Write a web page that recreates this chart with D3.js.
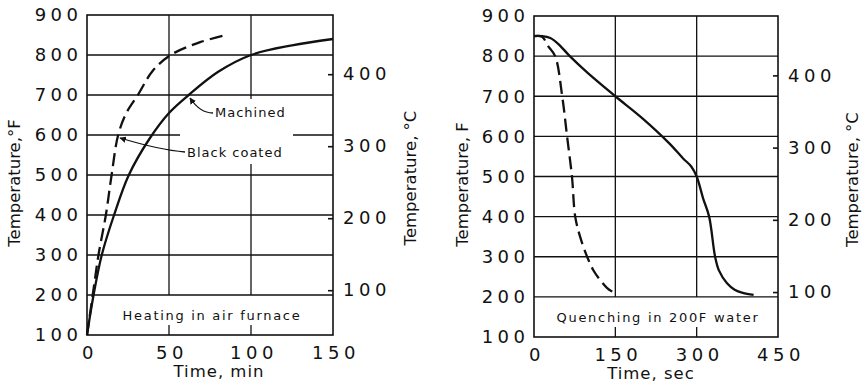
<!DOCTYPE html>
<meta charset="utf-8">
<style>
body { margin: 0; background: #fff; }
svg text { font-family: "DejaVu Sans", sans-serif; fill: #111; }
.tick text { font-size: 18px; letter-spacing: 4.5px; }
.grid line { stroke: #111; stroke-width: 1.3px; }
.frame { fill: none; stroke: #111; stroke-width: 1.6px; }
.curve { fill: none; stroke: #111; stroke-width: 2.3px; }
.dashed { stroke-dasharray: 13 6; }
.title { font-size: 16.5px; }
.note { font-size: 13px; letter-spacing: 1px; }
.band { font-size: 13px; letter-spacing: 1.7px; }
</style>
<body>
<script src="https://cdn.jsdelivr.net/npm/d3@7"></script>
<script>
// temperature scale (F) shared by both panels
var tempTicksF = [100, 200, 300, 400, 500, 600, 700, 800, 900];
var tempTicksC = [100, 200, 300, 400];

// heating in air furnace, time in min
var heatTicks = [0, 50, 100, 150];
var machinedTime = [0, 4, 9, 16.5, 25.5, 38, 50, 62, 80, 100, 125, 150];
var machinedTemp = [100, 200, 300, 400, 500, 590, 655, 700, 758, 800, 824, 840];
var coatedTime = [0, 3.5, 7, 11.5, 15, 19, 24, 31, 40, 51, 69, 85];
var coatedTemp = [100, 200, 300, 400, 500, 600, 655, 700, 760, 800, 832, 850];

// quenching in 200F water, time in sec
var quenchTicks = [0, 150, 300, 450];
var slowTime = [0, 15, 30, 45, 66, 100, 150, 200, 250, 275, 290, 300, 312, 323, 334, 341, 356, 370, 385, 405];
var slowTemp = [850, 850, 845, 830, 800, 757, 700, 645, 582, 545, 525, 500, 445, 400, 300, 266, 234, 218, 210, 205];
var fastTime = [0, 15, 26, 39, 52, 61, 70, 76, 85, 98, 110, 122, 135, 148];
var fastTemp = [850, 848, 825, 800, 700, 600, 500, 400, 350, 300, 265, 242, 222, 210];

var width = 866, height = 384;
var svg = d3.select("body").append("svg")
    .attr("width", width)
    .attr("height", height);

function toC(f) { return (f - 32) * 5 / 9; }

var panels = [
  { left: 87, right: 333, top: 15, bottom: 335, xmax: 150, xticks: heatTicks,
    xtitle: "Time, min", ytitle: "Temperature,\u00b0F", note: "Heating in air furnace",
    series: [
      { t: machinedTime, f: machinedTemp, dashed: false },
      { t: coatedTime, f: coatedTemp, dashed: true }
    ],
    broken: true, yTitleX: 20, cTitleX: 416, xTitleX: 219, xTitleY: 377 },
  { left: 534, right: 778, top: 16, bottom: 337, xmax: 450, xticks: quenchTicks,
    xtitle: "Time, sec", ytitle: "Temperature, F", note: "Quenching in 200F water",
    series: [
      { t: slowTime, f: slowTemp, dashed: false },
      { t: fastTime, f: fastTemp, dashed: true }
    ],
    broken: false, yTitleX: 468, cTitleX: 858, xTitleX: 651, xTitleY: 379 }
];

panels.forEach(function(p) {
  var x = d3.scaleLinear().domain([0, p.xmax]).range([p.left, p.right]);
  var y = d3.scaleLinear().domain([100, 900]).range([p.bottom, p.top]);
  var yc = d3.scaleLinear().domain([toC(100), toC(900)]).range([p.bottom, p.top]);
  var g = svg.append("g");
  var grid = g.append("g").attr("class", "grid");

  // horizontal grid 200..800
  grid.selectAll(".h").data(tempTicksF.slice(1, -1)).enter().append("line")
      .attr("x1", p.left).attr("x2", p.right)
      .attr("y1", function(d) { return y(d); })
      .attr("y2", function(d) { return y(d); });

  // vertical grid stops at the 200 line, short stubs in the label band
  var inner = p.xticks.slice(1, -1);
  grid.selectAll(".v").data(inner).enter().append("line")
      .attr("x1", function(d) { return x(d); }).attr("x2", function(d) { return x(d); })
      .attr("y1", p.top).attr("y2", y(200));
  grid.selectAll(".stub").data(inner).enter().append("line")
      .attr("x1", function(d) { return x(d); }).attr("x2", function(d) { return x(d); })
      .attr("y1", p.bottom - 10).attr("y2", p.bottom);

  if (p.broken) {
    // white patches where the grid is broken for the labels
    g.append("rect").attr("x", 209).attr("y", 99).attr("width", 80).attr("height", 29).attr("fill", "#fff");
    g.append("rect").attr("x", 180).attr("y", 128).attr("width", 113).attr("height", 36).attr("fill", "#fff");
  }

  g.append("rect").attr("class", "frame")
      .attr("x", p.left).attr("y", p.top)
      .attr("width", p.right - p.left).attr("height", p.bottom - p.top);

  // curves
  var line = d3.line()
      .x(function(d) { return x(d[0]); })
      .y(function(d) { return y(d[1]); })
      .curve(d3.curveCatmullRom.alpha(0.5));
  p.series.forEach(function(s) {
    g.append("path")
        .attr("class", s.dashed ? "curve dashed" : "curve")
        .attr("d", line(d3.zip(s.t, s.f)));
  });

  // axes
  var ax = g.append("g").attr("transform", "translate(" + p.left + ",0)")
      .call(d3.axisLeft(y).tickValues(tempTicksF).tickSize(0).tickPadding(7));
  ax.select(".domain").remove();
  ax.selectAll("text").attr("dx", "2.5px");

  var bx = g.append("g").attr("transform", "translate(0," + p.bottom + ")")
      .call(d3.axisBottom(x).tickValues(p.xticks).tickSize(0).tickPadding(11));
  bx.select(".domain").remove();
  bx.selectAll("text").attr("dx", "2.5px");

  var cx = g.append("g").attr("transform", "translate(" + p.right + ",0)")
      .call(d3.axisRight(yc).tickValues(tempTicksC).tickSize(-5).tickPadding(10));
  cx.select(".domain").remove();
  cx.selectAll("line").attr("stroke", "#111").attr("stroke-width", 1.6);

  // titles
  g.append("text").attr("class", "title")
      .attr("text-anchor", "middle")
      .attr("x", p.xTitleX).attr("y", p.xTitleY)
      .style("letter-spacing", "1px")
      .text(p.xtitle);
  g.append("text").attr("class", "title")
      .attr("text-anchor", "middle")
      .attr("transform", "translate(" + p.yTitleX + "," + ((p.top + p.bottom) / 2 + 8) + ") rotate(-90)")
      .text(p.ytitle);
  g.append("text").attr("class", "title")
      .attr("text-anchor", "middle")
      .attr("transform", "translate(" + p.cTitleX + "," + ((p.top + p.bottom) / 2 + 3) + ") rotate(-90)")
      .text("Temperature, \u00b0C");

  g.append("text").attr("class", "band")
      .attr("text-anchor", "middle")
      .attr("x", (p.left + p.right) / 2 + 2)
      .attr("y", (y(200) + p.bottom) / 2 + 5)
      .text(p.note);
});

// callouts on the heating panel
svg.append("defs").append("marker")
    .attr("id", "arr").attr("viewBox", "0 0 10 10")
    .attr("refX", 9).attr("refY", 5)
    .attr("markerWidth", 5).attr("markerHeight", 5)
    .attr("orient", "auto")
  .append("path").attr("d", "M0,0L10,5L0,10z").attr("fill", "#111");

svg.append("path")
    .attr("d", "M213,113 Q200,113 190,98")
    .attr("fill", "none").attr("stroke", "#111").attr("stroke-width", 1.3)
    .attr("marker-end", "url(#arr)");
svg.append("text").attr("class", "note").attr("x", 215).attr("y", 117).text("Machined");

svg.append("path")
    .attr("d", "M185,152 Q160,150 120,138")
    .attr("fill", "none").attr("stroke", "#111").attr("stroke-width", 1.3)
    .attr("marker-end", "url(#arr)");
svg.append("text").attr("class", "note").attr("x", 187).attr("y", 157).text("Black coated");
</script>
</body>
